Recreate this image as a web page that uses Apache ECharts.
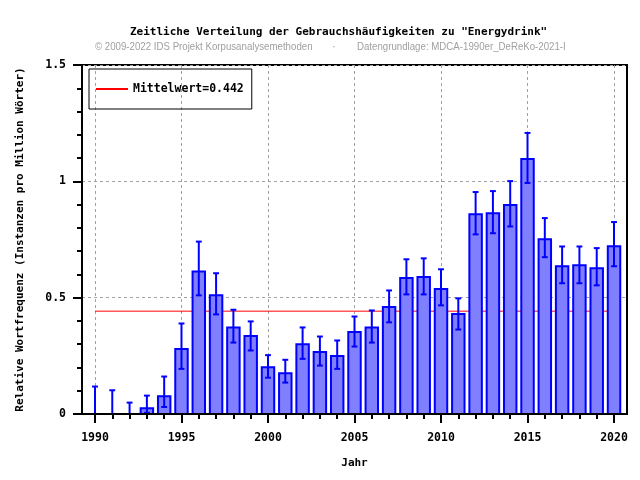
<!DOCTYPE html>
<html>
<head>
<meta charset="utf-8">
<script src="https://cdn.jsdelivr.net/npm/echarts@6/dist/echarts.min.js"></script>
<style>html,body{margin:0;padding:0;background:#fff}</style>
</head>
<body>
<div id="myChart" style="width:640px;height:480px"></div>
<script>
// Daten
const years = [1990, 1991, 1992, 1993, 1994, 1995, 1996, 1997, 1998, 1999,
               2000, 2001, 2002, 2003, 2004, 2005, 2006, 2007, 2008, 2009,
               2010, 2011, 2012, 2013, 2014, 2015, 2016, 2017, 2018, 2019, 2020];
const freq = [0, 0, 0, 0.025, 0.076, 0.279, 0.613, 0.510, 0.372, 0.335,
              0.201, 0.175, 0.300, 0.266, 0.249, 0.352, 0.372, 0.460, 0.585, 0.589,
              0.537, 0.430, 0.859, 0.863, 0.898, 1.096, 0.751, 0.635, 0.639, 0.626, 0.721];
const errLow = [0, 0, 0, 0.005, 0.030, 0.194, 0.510, 0.428, 0.307, 0.273,
                0.156, 0.135, 0.237, 0.208, 0.194, 0.290, 0.307, 0.394, 0.514, 0.514,
                0.467, 0.363, 0.772, 0.777, 0.806, 0.993, 0.674, 0.562, 0.562, 0.553, 0.635];
const errHigh = [0.118, 0.102, 0.049, 0.079, 0.161, 0.389, 0.741, 0.605, 0.448, 0.398,
                 0.253, 0.233, 0.372, 0.333, 0.316, 0.419, 0.445, 0.531, 0.665, 0.669,
                 0.622, 0.497, 0.954, 0.958, 1.001, 1.208, 0.842, 0.720, 0.720, 0.713, 0.825];
const majorYears = [1990, 1995, 2000, 2005, 2010, 2015, 2020];
const meanValue = 0.442;
const meanName = 'Mittelwert=0.442';

const monoFont = {fontFamily: 'DejaVu Sans Mono', fontWeight: 'bold', fontSize: 11, color: '#000'};
const labelFont = {...monoFont, fontSize: 11.5};
const subFont = '11px "Liberation Sans"';
const xMin = 1989.25, xMax = 2020.75;

let myChart = echarts.init(document.getElementById('myChart'));

function renderBar(params, api) {
    let x = api.value(0), v = api.value(1), lo = api.value(2), hi = api.value(3);
    let p0 = api.coord([x - 0.36, v]);
    let p1 = api.coord([x + 0.36, 0]);
    let cx = api.coord([x, 0])[0];
    let cap = api.size([1, 0])[0] * 0.17;
    let yLo = api.coord([x, lo])[1];
    let yHi = api.coord([x, hi])[1];
    let blue = '#0000ff';
    let children = [];
    if (v > 0) {
        children.push({
            type: 'rect',
            shape: {x: p0[0], y: p0[1], width: p1[0] - p0[0], height: p1[1] - p0[1]},
            style: {fill: '#8080ff', stroke: blue, lineWidth: 2}
        });
    }
    children.push({type: 'line', shape: {x1: cx, y1: yLo, x2: cx, y2: yHi}, style: {stroke: blue, lineWidth: 2}});
    children.push({type: 'line', shape: {x1: cx - cap, y1: yHi, x2: cx + cap, y2: yHi}, style: {stroke: blue, lineWidth: 2}});
    children.push({type: 'line', shape: {x1: cx - cap, y1: yLo, x2: cx + cap, y2: yLo}, style: {stroke: blue, lineWidth: 2}});
    return {type: 'group', children: children};
}

myChart.setOption({
    animation: false,
    title: {
        text: 'Zeitliche Verteilung der Gebrauchshäufigkeiten zu "Energydrink"',
        left: 130,
        top: 27,
        padding: 0,
        textStyle: monoFont
    },
    graphic: [
        {type: 'text', x: 95, y: 41, scaleX: 0.88, style: {text: '© 2009-2022 IDS Projekt Korpusanalysemethoden', fill: '#a0a0a0', font: subFont}},
        {type: 'text', x: 332, y: 41, style: {text: '·', fill: '#a0a0a0', font: subFont}},
        {type: 'text', x: 357, y: 41, scaleX: 0.88, style: {text: 'Datengrundlage: MDCA-1990er_DeReKo-2021-I', fill: '#a0a0a0', font: subFont}}
    ],
    legend: {
        data: [{name: meanName, icon: 'rect'}],
        left: 89,
        top: 69,
        padding: [14, 8, 14, 7],
        borderColor: '#000',
        borderWidth: 1,
        itemWidth: 32,
        itemHeight: 2,
        textStyle: labelFont
    },
    grid: {
        left: 82,
        right: 13,
        top: 65,
        bottom: 66,
        show: true,
        borderColor: '#000',
        borderWidth: 2,
        backgroundColor: 'transparent'
    },
    xAxis: [
        {
            // Hauptachse mit Beschriftung
            type: 'value', min: xMin, max: xMax, position: 'bottom', z: 10,
            name: 'Jahr', nameLocation: 'middle', nameGap: 44, nameTextStyle: monoFont,
            axisLine: {lineStyle: {color: '#000', width: 2}},
            axisTick: {length: 9, lineStyle: {color: '#000', width: 2}, customValues: majorYears},
            axisLabel: {margin: 18, customValues: majorYears, formatter: v => String(v), ...labelFont},
            splitLine: {show: false}
        },
        {
            // kleine Striche für jedes Jahr
            type: 'value', min: xMin, max: xMax, position: 'bottom', z: 10,
            axisLine: {show: false},
            axisTick: {length: 5, lineStyle: {color: '#000', width: 2}, customValues: years},
            axisLabel: {show: false},
            splitLine: {show: false}
        },
        {
            // Gitterlinien hinter den Balken
            type: 'value', min: xMin, max: xMax, position: 'bottom', z: 0,
            axisLine: {show: false},
            axisTick: {show: false, customValues: majorYears},
            axisLabel: {show: false},
            splitLine: {show: true, lineStyle: {color: '#a0a0a0', type: [3, 3], width: 1}}
        }
    ],
    yAxis: [
        {
            type: 'value', min: 0, max: 1.5, interval: 0.5, position: 'left', z: 10,
            name: 'Relative Wortfrequenz (Instanzen pro Million Wörter)',
            nameLocation: 'middle', nameGap: 56, nameTextStyle: monoFont,
            axisLine: {show: true, lineStyle: {color: '#000', width: 2}},
            axisTick: {show: true, length: 9, lineStyle: {color: '#000', width: 2}},
            minorTick: {show: true, splitNumber: 5, length: 5, lineStyle: {color: '#000', width: 2}},
            axisLabel: {margin: 16, ...labelFont},
            splitLine: {show: false}
        },
        {
            type: 'value', min: 0, max: 1.5, interval: 0.5, position: 'left', z: 0,
            axisLine: {show: false},
            axisTick: {show: false},
            axisLabel: {show: false},
            splitLine: {show: true, lineStyle: {color: '#a0a0a0', type: [3, 3], width: 1}}
        }
    ],
    series: [
        {
            name: meanName,
            type: 'line',
            symbol: 'none',
            z: 1,
            lineStyle: {color: '#ff0000', width: 1},
            itemStyle: {color: '#ff0000'},
            data: [[years[0], meanValue], [years[years.length - 1], meanValue]]
        },
        {
            name: 'Frequenz',
            type: 'custom',
            z: 2,
            renderItem: renderBar,
            encode: {x: 0, y: 1},
            data: years.map((y, i) => [y, freq[i], errLow[i], errHigh[i]])
        }
    ]
});
</script>
</body>
</html>
